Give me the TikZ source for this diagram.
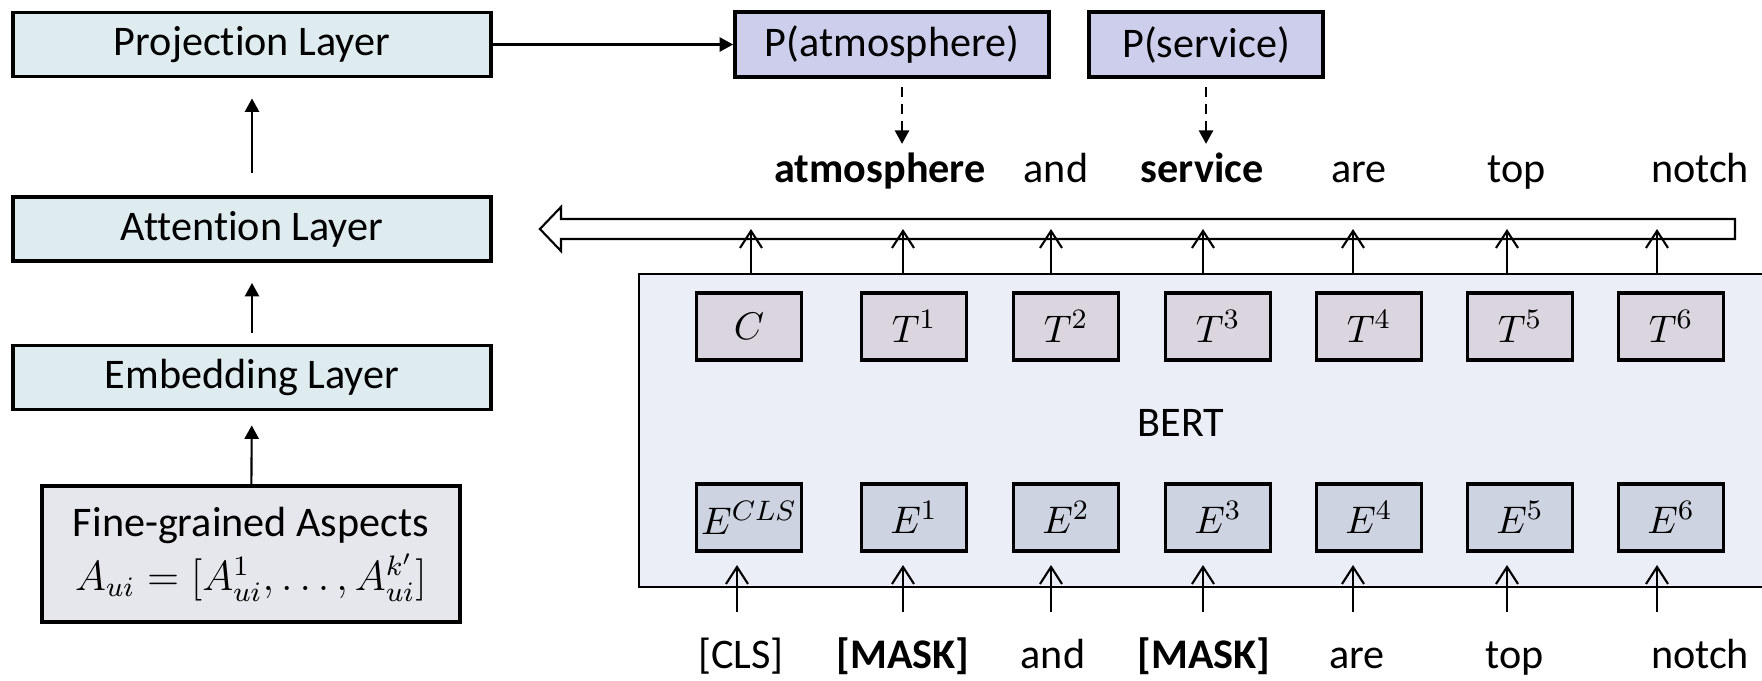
\documentclass[tikz,border=0pt]{standalone}
\usepackage[no-math]{fontspec}
\setmainfont{Carlito}[Ligatures=NoCommon]
\usetikzlibrary{arrows.meta}

\definecolor{layerfill}{RGB}{222,235,239}
\definecolor{aspectfill}{RGB}{229,231,236}
\definecolor{probfill}{RGB}{205,206,235}
\definecolor{bertfill}{RGB}{235,238,246}
\definecolor{tokfill}{RGB}{218,213,222}
\definecolor{embfill}{RGB}{205,211,224}

\begin{document}
\begin{tikzpicture}[
  >={Triangle[length=3.8pt,width=4pt]},
  line width=0.6pt,
  font=\fontsize{12}{14.5}\selectfont,
  layer/.style={draw, line width=1.1pt, fill=layerfill, minimum width=4.78cm, minimum height=0.64cm, inner sep=0pt},
  probbox/.style={draw, line width=1.1pt, fill=probfill, minimum height=0.65cm, inner sep=0pt},
  cellbox/.style={draw, line width=1pt, minimum width=1.05cm, minimum height=0.67cm, inner sep=0pt, font=\fontsize{11}{13}\selectfont},
  word/.style={anchor=base, inner sep=1pt},
  keyword/.style={word, font=\fontsize{12}{14.5}\selectfont\bfseries},
  barb/.style={-{Straight Barb[length=1.7mm,width=2.2mm]}},
  ]
\useasboundingbox (0,0) rectangle (17.62,6.8);

% left column
\node[layer] (projection) at (2.52,6.355) {Projection Layer};
\node[layer] (attention) at (2.52,4.51) {Attention Layer};
\node[layer] (embedding) at (2.52,3.025) {Embedding Layer};
\node[draw, line width=1.1pt, fill=aspectfill, minimum width=4.18cm, minimum height=1.36cm, align=center, inner sep=0pt] (aspects) at (2.51,1.26)
  {Fine-grained Aspects\\[1pt] \fontsize{11.5}{13}\selectfont $A_{ui}=[A^1_{ui},\ldots,A^{k'}_{ui}]$};
\draw[->, shorten <=0.22cm, shorten >=0.2cm] (attention) -- (projection);
\draw[->, shorten <=0.11cm, shorten >=0.2cm] (embedding) -- (attention);
\draw[->, shorten >=0.14cm] (aspects) -- (embedding);

% predictions
\node[probbox, minimum width=3.14cm] (patm) at (8.92,6.355) {P(atmosphere)};
\node[probbox, minimum width=2.34cm] (pserv) at (12.06,6.355) {P(service)};
\draw[->] (projection) -- (patm);

% output words
\node[keyword] (watm) at (8.80,4.98) {atmosphere};
\node[word] (wand) at (10.56,4.98) {and};
\node[keyword] (wserv) at (12.02,4.98) {service};
\node[word] (ware) at (13.59,4.98) {are};
\node[word] (wtop) at (15.17,4.98) {top};
\node[word] (wnotch) at (17.0,4.98) {notch};
\draw[->, dashed, dash pattern=on 0.1cm off 0.07cm, shorten >=0.04cm] ([xshift=0.1cm,yshift=-0.08cm]patm.south) -- ([xshift=0.1cm]patm.south |- watm.north);
\draw[->, dashed, dash pattern=on 0.1cm off 0.07cm, shorten >=0.04cm] ([yshift=-0.08cm]pserv.south) -- (pserv.south |- wserv.north);

% BERT block
\begin{scope}
\clip (0,0) rectangle (17.62,6.8);
\node[draw, fill=bertfill, minimum width=11.6cm, minimum height=3.13cm, anchor=west] (bert) at (6.38,2.495) {};
\end{scope}
\node (bertlabel) at (11.81,2.57) {BERT};

\foreach \x/\lab [count=\i from 0] in {7.49/C, 9.14/T^1, 10.66/T^2, 12.18/T^3, 13.69/T^4, 15.20/T^5, 16.71/T^6}
  \node[cellbox, fill=tokfill] (t\i) at (\x,3.535) {$\lab$};
\foreach \x/\lab [count=\i from 0] in {7.49/E^{CLS}, 9.14/E^1, 10.66/E^2, 12.18/E^3, 13.69/E^4, 15.20/E^5, 16.71/E^6}
  \node[cellbox, fill=embfill] (e\i) at (\x,1.625) {$\lab$};

% hollow arrow into the attention layer
\coordinate (htip) at ([xshift=0.47cm]attention.east);
\draw[fill=white] (htip) -- ++(0.21,0.22) -- ++(0,-0.12) -- ++(11.74,0) -- ++(0,-0.2) -- ++(-11.74,0) -- ++(0,-0.12) -- cycle;

\foreach \x [count=\i from 0] in {7.51,9.03,10.51,12.03,13.53,15.07,16.57} {
  \coordinate (up\i) at (\x,4.51);
  \draw[barb] (up\i |- bert.north) -- (up\i);
}

% input tokens
\node[word] (tok0) at (7.41,0.12) {[CLS]};
\node[keyword] (tok1) at (9.03,0.12) {[MASK]};
\node[word] (tok2) at (10.53,0.12) {and};
\node[keyword] (tok3) at (12.04,0.12) {[MASK]};
\node[word] (tok4) at (13.57,0.12) {are};
\node[word] (tok5) at (15.15,0.12) {top};
\node[word] (tok6) at (17.0,0.12) {notch};
\coordinate (tokrow) at (0,0.68);
\foreach \x [count=\i from 0] in {7.37,9.03,10.51,12.03,13.53,15.07,16.57} {
  \coordinate (in\i) at (\x,1.15);
  \draw[barb] (in\i |- tokrow) -- (in\i);
}
\end{tikzpicture}
\end{document}
